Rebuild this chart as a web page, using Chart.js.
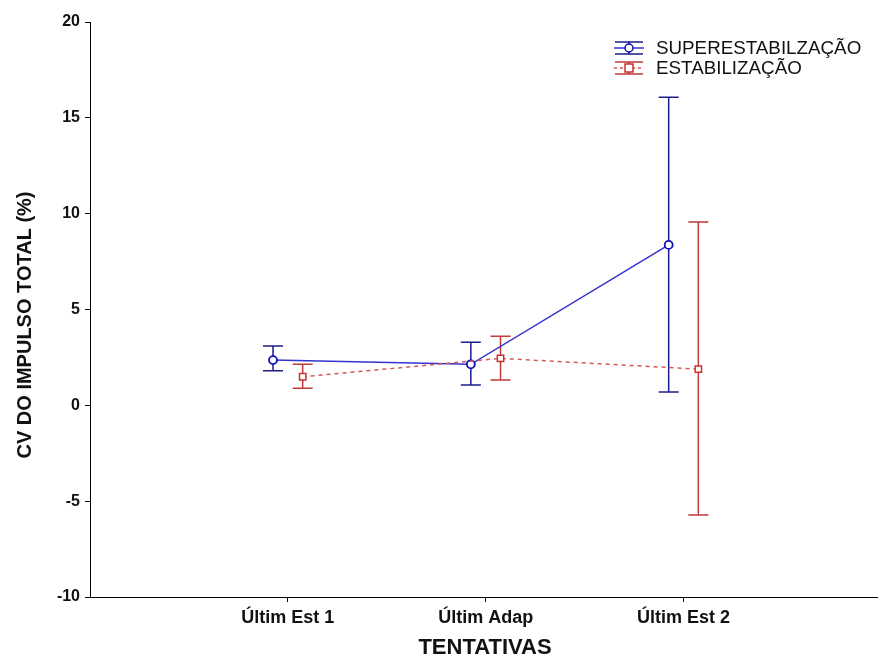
<!DOCTYPE html>
<html>
<head>
<meta charset="utf-8">
<script src="https://cdn.jsdelivr.net/npm/chart.js@4.4.0/dist/chart.umd.min.js"></script>
<style>
html,body{margin:0;padding:0;background:#fff;}
#wrap{width:883px;height:659px;position:relative;}
</style>
</head>
<body>
<div id="wrap"><canvas id="c" width="883" height="659"></canvas></div>
<script>
const categories = ['Últim Est 1', 'Últim Adap', 'Últim Est 2'];
const seriesNames = ['SUPERESTABILZAÇÃO', 'ESTABILIZAÇÃO'];
const superMean = [2.36, 2.14, 8.37];
const superLow  = [1.80, 1.06, 0.69];
const superHigh = [3.09, 3.29, 16.08];
const estabMean = [1.49, 2.45, 1.89];
const estabLow  = [0.89, 1.32, -5.72];
const estabHigh = [2.15, 3.61, 9.56];
const yTicks = [-10, -5, 0, 5, 10, 15, 20];

const FONT = "'Liberation Sans', Arial, sans-serif";
const OFFSET_BLUE = -0.075, OFFSET_RED = 0.075;

const style = {
  blue: {line: '#3434cc', bar: '#1c1c8a', marker: '#1010b8'},
  red:  {line: '#d45a5a', bar: '#bf3a3a', marker: '#cc3030'}
};

function pts(means, lows, highs, off) {
  return means.map((m, i) => ({x: i + 1 + off, y: m, lo: lows[i], hi: highs[i]}));
}

const errorBars = {
  id: 'errorBars',
  beforeDatasetsDraw(chart) {
    const ctx = chart.ctx, xs = chart.scales.x, ys = chart.scales.y;
    chart.data.datasets.forEach(ds => {
      ctx.save();
      ctx.strokeStyle = ds.barColor;
      ctx.lineWidth = 1.5;
      ds.data.forEach(p => {
        const x = xs.getPixelForValue(p.x);
        const yl = ys.getPixelForValue(p.lo), yh = ys.getPixelForValue(p.hi);
        ctx.beginPath();
        ctx.moveTo(x, yl); ctx.lineTo(x, yh);
        ctx.moveTo(x - 10, yl); ctx.lineTo(x + 10, yl);
        ctx.moveTo(x - 10, yh); ctx.lineTo(x + 10, yh);
        ctx.stroke();
      });
      ctx.restore();
    });
  }
};

const decor = {
  id: 'decor',
  afterDraw(chart) {
    const ctx = chart.ctx;
    ctx.save();
    ctx.fillStyle = '#111';
    ctx.font = 'bold 22px ' + FONT;
    ctx.textAlign = 'center';
    ctx.textBaseline = 'middle';
    ctx.fillText('TENTATIVAS', 485, 648);
    ctx.save();
    ctx.translate(25, 325);
    ctx.rotate(-Math.PI / 2);
    ctx.font = 'bold 20px ' + FONT;
    ctx.fillText('CV DO IMPULSO TOTAL (%)', 0, 0);
    ctx.restore();
    const rows = [
      {y: 48, name: seriesNames[0], s: style.blue, dash: [], circle: true},
      {y: 68, name: seriesNames[1], s: style.red, dash: [3, 3], circle: false}
    ];
    rows.forEach(r => {
      const cx = 629, y = r.y;
      ctx.lineWidth = 1.5;
      ctx.strokeStyle = r.s.bar;
      ctx.setLineDash([]);
      ctx.beginPath();
      ctx.moveTo(615, y - 6); ctx.lineTo(643, y - 6);
      ctx.moveTo(615, y + 6); ctx.lineTo(643, y + 6);
      ctx.moveTo(cx, y - 6); ctx.lineTo(cx, y + 6);
      ctx.stroke();
      ctx.strokeStyle = r.s.line;
      ctx.setLineDash(r.dash);
      ctx.beginPath();
      ctx.moveTo(614, y); ctx.lineTo(644, y);
      ctx.stroke();
      ctx.setLineDash([]);
      ctx.strokeStyle = r.s.marker;
      ctx.fillStyle = '#fff';
      ctx.beginPath();
      if (r.circle) ctx.arc(cx, y, 4, 0, Math.PI * 2);
      else ctx.rect(cx - 4, y - 4, 8, 8);
      ctx.fill(); ctx.stroke();
      ctx.fillStyle = '#111';
      ctx.font = '18.8px ' + FONT;
      ctx.textAlign = 'left';
      ctx.textBaseline = 'middle';
      ctx.fillText(r.name, 656, y + 1);
    });
    ctx.restore();
  }
};

new Chart(document.getElementById('c'), {
  type: 'scatter',
  data: {
    datasets: [
      {
        label: seriesNames[1],
        data: pts(estabMean, estabLow, estabHigh, OFFSET_RED),
        showLine: true,
        borderColor: style.red.line,
        borderWidth: 1.5,
        borderDash: [4, 4],
        barColor: style.red.bar,
        pointStyle: 'rect',
        pointRadius: 4.5,
        pointBorderWidth: 1.5,
        pointBorderColor: style.red.marker,
        pointBackgroundColor: '#fff'
      },
      {
        label: seriesNames[0],
        data: pts(superMean, superLow, superHigh, OFFSET_BLUE),
        showLine: true,
        borderColor: style.blue.line,
        borderWidth: 1.5,
        barColor: style.blue.bar,
        pointStyle: 'circle',
        pointRadius: 4,
        pointBorderWidth: 1.8,
        pointBorderColor: style.blue.marker,
        pointBackgroundColor: '#fff'
      }
    ]
  },
  options: {
    responsive: false,
    animation: false,
    layout: {padding: {top: 22, right: 0, left: 0, bottom: 0}},
    plugins: {legend: {display: false}, tooltip: {enabled: false}},
    scales: {
      x: {
        type: 'linear', min: 0, max: 3.978,
        afterFit(s) { s.height = 62; },
        afterBuildTicks(s) { s.ticks = categories.map((c, i) => ({value: i + 1})); },
        grid: {drawOnChartArea: false, drawTicks: true, tickLength: 5, color: '#000'},
        border: {display: true, color: '#000', width: 1},
        ticks: {
          autoSkip: false, maxRotation: 0, padding: 5, color: '#111',
          font: {family: FONT, size: 18, weight: 'bold'},
          callback: v => categories[Math.round(v) - 1] || ''
        }
      },
      y: {
        min: -10, max: 20,
        afterFit(s) { s.width = 90; },
        afterBuildTicks(s) { s.ticks = yTicks.map(v => ({value: v})); },
        grid: {drawOnChartArea: false, drawTicks: true, tickLength: 5, color: '#000'},
        border: {display: true, color: '#000', width: 1},
        ticks: {
          padding: 5, color: '#111',
          font: {family: FONT, size: 16, weight: 'bold'}
        }
      }
    }
  },
  plugins: [errorBars, decor]
});
</script>
</body>
</html>
